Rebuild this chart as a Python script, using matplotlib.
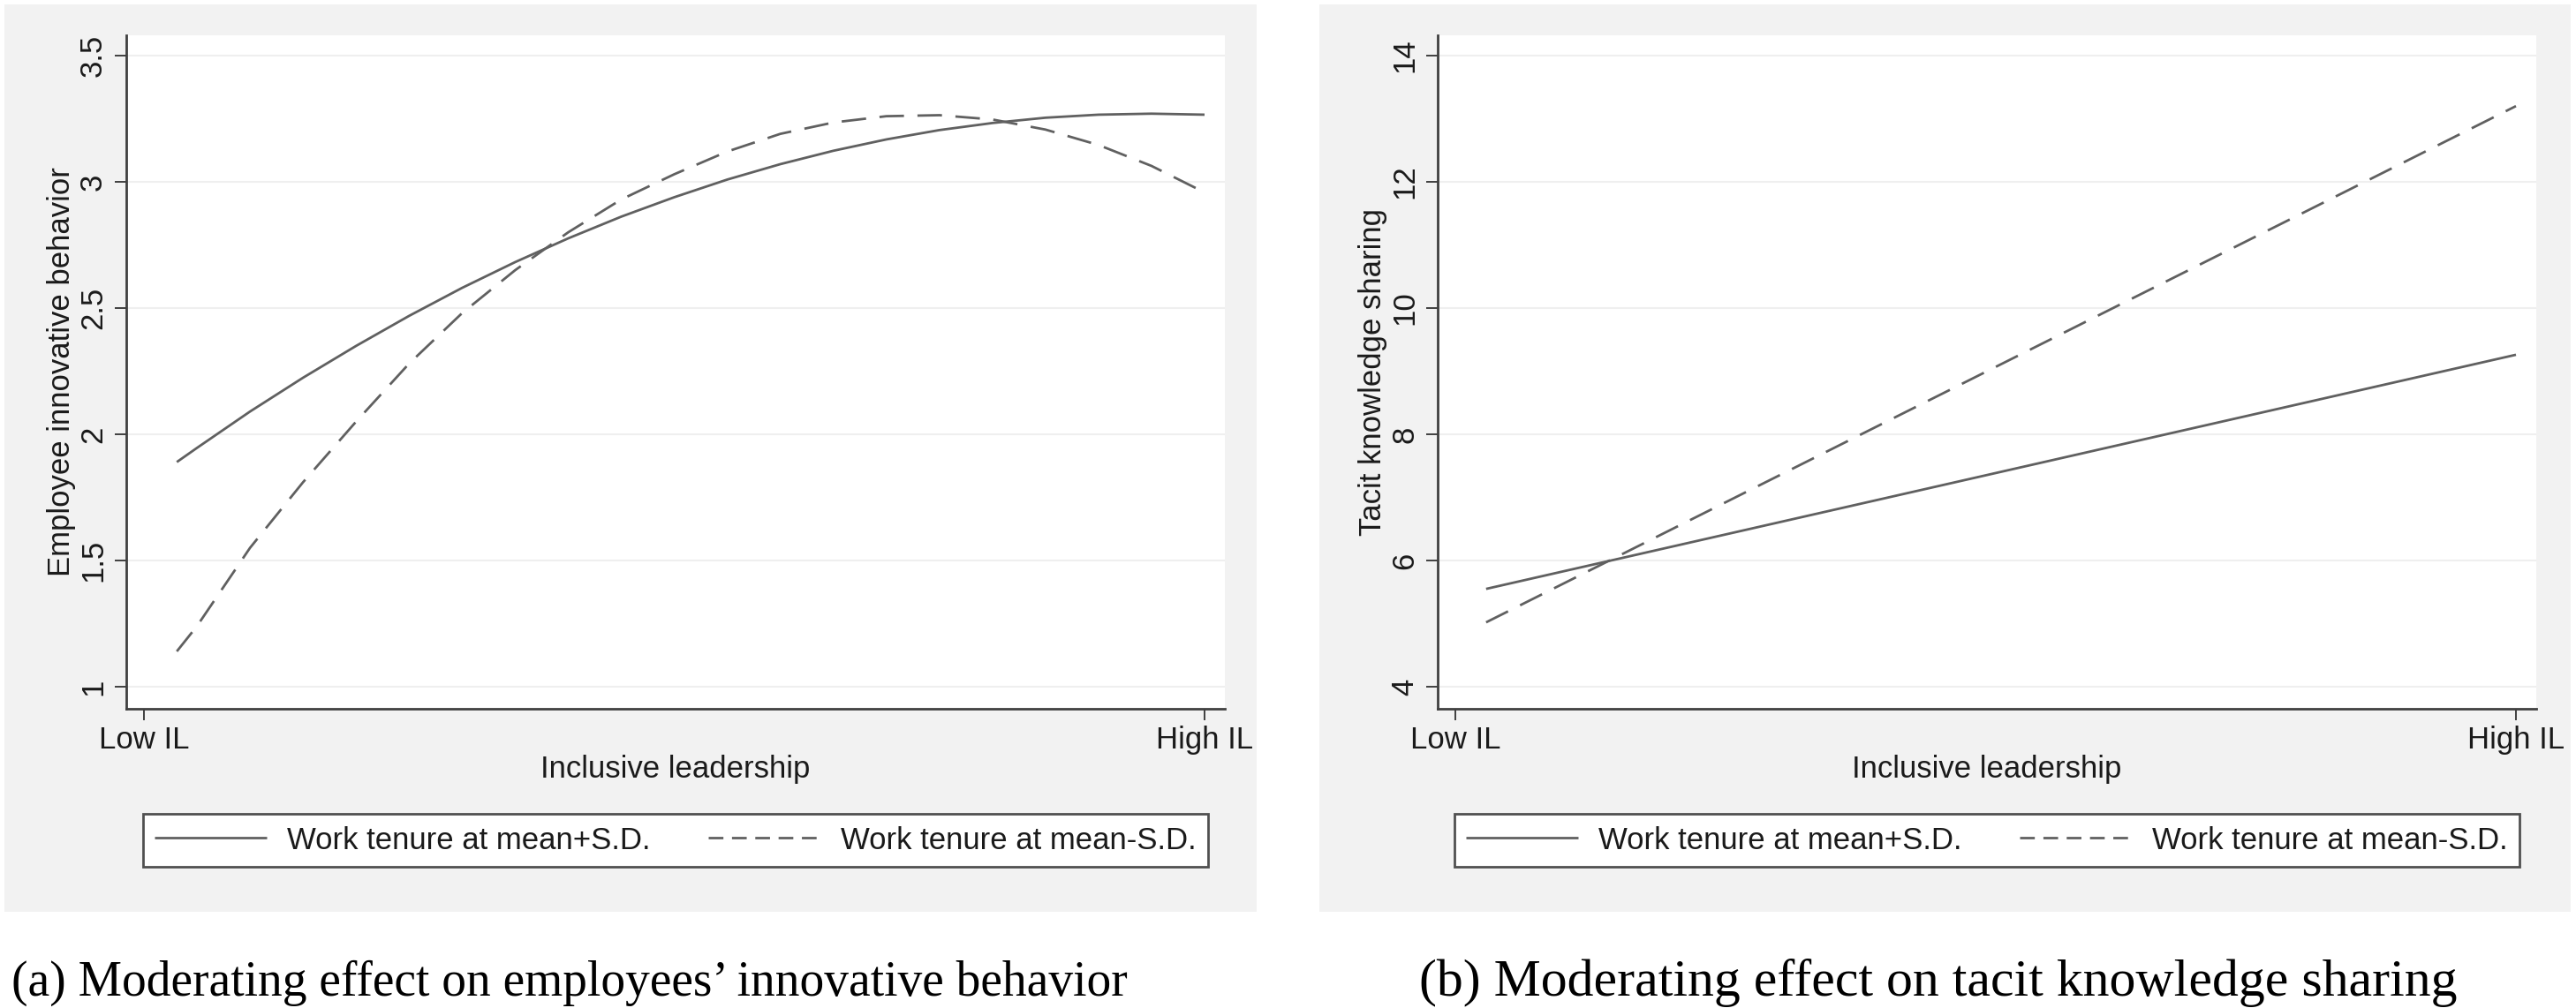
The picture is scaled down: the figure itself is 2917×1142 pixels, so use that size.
import matplotlib.pyplot as plt
from matplotlib.patches import Rectangle

# inclusive leadership, 0 = "Low IL" tick, 1 = "High IL" tick
il_a = [0.031, 0.05, 0.1, 0.15, 0.2, 0.25, 0.3, 0.35, 0.4, 0.45, 0.5,
        0.55, 0.6, 0.65, 0.7, 0.75, 0.8, 0.85, 0.9, 0.95, 1.0]
iwb_high = [1.89, 1.946, 2.09, 2.224, 2.35, 2.469, 2.58, 2.682, 2.776, 2.862, 2.939,
            3.009, 3.07, 3.123, 3.168, 3.205, 3.233, 3.254, 3.266, 3.27, 3.266]
iwb_low = [1.14, 1.24, 1.55, 1.81, 2.05, 2.28, 2.48, 2.65, 2.80, 2.93, 3.03,
           3.12, 3.19, 3.235, 3.26, 3.264, 3.247, 3.207, 3.146, 3.063, 2.958]

il_b = [0.029, 1.0]
tks_high = [5.55, 9.26]
tks_low = [5.02, 13.2]

yticks_a = [1, 1.5, 2, 2.5, 3, 3.5]
yticks_b = [4, 6, 8, 10, 12, 14]
xtick_labels = ["Low IL", "High IL"]
legend_labels = ["Work tenure at mean+S.D.", "Work tenure at mean-S.D."]
captions = ["(a) Moderating effect on employees\u2019 innovative behavior",
            "(b) Moderating effect on tacit knowledge sharing"]

W, H = 2917, 1142
plt.rcParams['font.family'] = ['Liberation Sans', 'DejaVu Sans']
plt.rcParams['font.size'] = 25

LINE = '#606060'
AXC = '#404040'
TXT = '#1a1a1a'

fig = plt.figure(figsize=(W / 100, H / 100), dpi=100)


def px_box(x0, y0, x1, y1):
    # pixel box (top-left origin) -> figure fraction rect
    return [x0 / W, 1 - y1 / H, (x1 - x0) / W, (y1 - y0) / H]


def panel(bg, plot, x, yh, yl, yticks, ylim, ylabel):
    r = px_box(*bg)
    fig.add_artist(Rectangle((r[0], r[1]), r[2], r[3], transform=fig.transFigure,
                             facecolor='#f2f2f2', edgecolor='none', zorder=0))
    ax = fig.add_axes(px_box(*plot))
    ax.set_facecolor('white')
    ax.plot(x, yh, color=LINE, lw=2.0, solid_capstyle='butt', label=legend_labels[0])
    ax.plot(x, yl, color=LINE, lw=2.0, dashes=(10, 5.5), label=legend_labels[1])
    ax.set_xlim(-20 / 1201, 1 + 23 / 1201)
    ax.set_ylim(*ylim)
    ax.set_xticks([0, 1])
    ax.set_xticklabels(xtick_labels)
    ax.set_yticks(yticks)
    ax.set_yticklabels([f"{v:g}" for v in yticks])
    ax.grid(axis='y', color='#efefef', lw=1.5)
    ax.set_axisbelow(True)
    for s in ['top', 'right']:
        ax.spines[s].set_visible(False)
    for s in ['left', 'bottom']:
        ax.spines[s].set_color(AXC)
        ax.spines[s].set_linewidth(2.0)
    ax.tick_params(axis='both', direction='out', length=9.5, width=1.4, color=AXC, labelcolor=TXT)
    ax.tick_params(axis='x', pad=4)
    ax.tick_params(axis='y', pad=5.5, labelrotation=90)
    plt.setp(ax.get_yticklabels(), va='center')
    ax.set_ylabel(ylabel, color=TXT)
    ax.yaxis.set_label_coords(-0.0455, 0.5)
    ax.set_xlabel("Inclusive leadership", color=TXT)
    ax.xaxis.set_label_coords(0.5, -0.068)
    leg = ax.legend(loc='center', bbox_to_anchor=(0.5, -0.1953), ncol=2,
                    handlelength=3.66, handletextpad=0.66, columnspacing=1.9,
                    borderpad=0.38, fancybox=False, framealpha=1, labelcolor=TXT)
    leg.get_frame().set_edgecolor('#505050')
    leg.get_frame().set_linewidth(2.0)
    # the legend key uses a finer dash than the plotted line
    leg.get_lines()[1].set_dashes((6, 3.5))
    return ax


panel((5, 5, 1423, 1033), (143, 40, 1387, 803), il_a, iwb_high, iwb_low,
      yticks_a, (1 - 25 / 286, 3.5 + 23 / 286), "Employee innovative behavior")
panel((1494, 5, 2911, 1033), (1628, 40, 2872, 803), il_b, tks_high, tks_low,
      yticks_b, (4 - 25 / 71.5, 14 + 23 / 71.5), "Tacit knowledge sharing")

fig.text(645 / W, 1 - 1128 / H, captions[0], ha='center', va='baseline',
         family='Liberation Serif', fontsize=40, color='black')
fig.text(2195 / W, 1 - 1128 / H, captions[1], ha='center', va='baseline',
         family='Liberation Serif', fontsize=43, color='black')

fig.savefig('out.png', dpi=100, facecolor='white')
